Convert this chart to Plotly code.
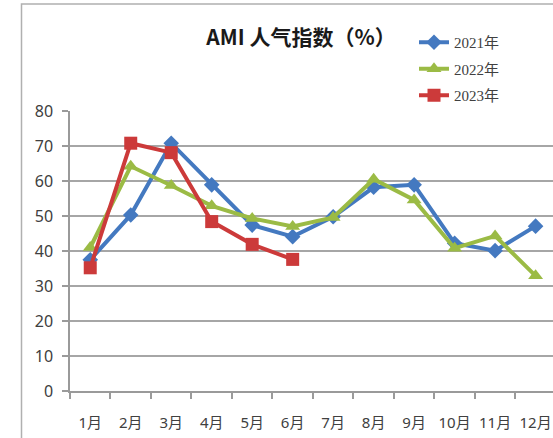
import plotly.graph_objects as go

months = ["1月", "2月", "3月", "4月", "5月", "6月", "7月", "8月", "9月", "10月", "11月", "12月"]
y2021 = [37.5, 50.3, 70.8, 58.9, 47.4, 44.1, 49.8, 58.2, 58.9, 42.2, 40.1, 47.1]
y2022 = [41.0, 64.2, 58.7, 52.9, 49.3, 47.0, 49.6, 60.5, 54.6, 40.8, 44.3, 32.9]
y2023 = [35.2, 70.8, 68.1, 48.4, 41.9, 37.6]
y_ticks = [0, 10, 20, 30, 40, 50, 60, 70, 80]

title_text = "AMI 人气指数（%）"
series = [
    ("2021年", y2021, "#4479C0", "diamond", 12),
    ("2022年", y2022, "#9BBB45", "triangle-up", 13),
    ("2023年", y2023, "#CC3A3A", "square", 13),
]

fig = go.Figure()
for i, (name, vals, color, sym, size) in enumerate(series):
    fig.add_trace(go.Scatter(
        x=months[:len(vals)], y=vals, name=name, mode="lines+markers",
        line=dict(color=color, width=4),
        marker=dict(symbol=sym, size=size, color=color),
        legendgroup=f"g{i}",
    ))

W, H = 553, 438
L, R, T, B = 70, 0, 111, 47
pw = W - L - R
ph = H - T - B

def px_x(px):
    return (px - L) / pw

def px_y(py):
    return (H - B - py) / ph

fig.update_layout(
    width=W, height=H,
    margin=dict(l=L, r=R, t=T, b=B, autoexpand=False),
    paper_bgcolor="white", plot_bgcolor="white",
    font=dict(family="Noto Sans, Noto Sans CJK SC, sans-serif", size=15, color="#404040"),
    title=dict(
        text="<b>" + title_text + "</b>",
        x=301 / W, xanchor="center", xref="container",
        y=1 - 38 / H, yanchor="middle", yref="container",
        font=dict(family="Noto Sans CJK SC, Noto Sans, sans-serif", size=21, color="#1a1a1a"),
    ),
    showlegend=True,
    legend=dict(
        x=px_x(414), xanchor="left", y=px_y(26), yanchor="top",
        font=dict(family="Liberation Serif, Noto Sans CJK SC, serif", size=15, color="#404040"),
        bgcolor="rgba(0,0,0,0)", tracegroupgap=4, itemwidth=30,
    ),
    xaxis=dict(
        type="category", categoryorder="array", categoryarray=months,
        range=[-0.5, 11.43],
        showgrid=False, showline=True, linecolor="#9a9a9a", linewidth=1.5,
        ticks="outside", tickson="boundaries", ticklen=6, tickcolor="#9a9a9a", tickwidth=1.5,
        ticklabelstandoff=17, tickangle=0,
        tickfont=dict(size=15, color="#404040"),
        fixedrange=True,
    ),
    yaxis=dict(
        range=[0, 80], tickvals=y_ticks,
        showgrid=True, gridcolor="#a6a6a6", gridwidth=1.5,
        showline=True, linecolor="#9a9a9a", linewidth=1.5,
        ticks="outside", ticklen=6, tickcolor="#9a9a9a", tickwidth=1.5,
        ticklabelstandoff=6,
        tickfont=dict(size=16, color="#404040"),
        zeroline=False,
    ),
)

# outer chart frame (cropped at right and bottom in the reference)
fig.add_shape(
    type="rect", xref="paper", yref="paper",
    x0=px_x(21.5), x1=px_x(600), y0=px_y(500), y1=px_y(4),
    line=dict(color="#b0b0b0", width=1.5), fillcolor="rgba(0,0,0,0)", layer="below",
)

fig.write_html("out.html", config={"displayModeBar": False},
               post_script="document.body.style.margin='0px';")
